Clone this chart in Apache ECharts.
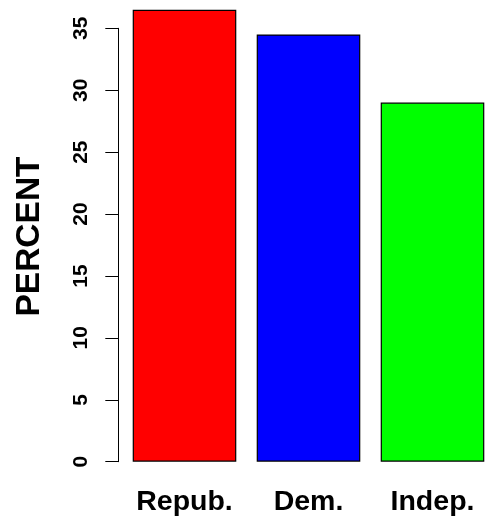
<!DOCTYPE html>
<html>
<head>
<meta charset="utf-8">
<script src="https://cdn.jsdelivr.net/npm/echarts@6/dist/echarts.min.js"></script>
<style>
html,body{margin:0;padding:0;background:#fff;}
#chart{width:485px;height:522px;}
</style>
</head>
<body>
<div id="chart"></div>
<script>
var categories = ['Repub.', 'Dem.', 'Indep.'];
var percents = [36.5, 34.5, 29.0];
var barColors = ['#FF0000', '#0000FF', '#00FF00'];
var yTicks = [0, 5, 10, 15, 20, 25, 30, 35];
var yLabel = 'PERCENT';

var FONT = '"Liberation Sans", Arial, sans-serif';
var chart = echarts.init(document.getElementById('chart'), null, {renderer: 'canvas'});
chart.setOption({
  animation: false,
  backgroundColor: '#ffffff',
  grid: {left: 184.5, top: 28.3, width: 248, height: 433.4, containLabel: false},
  xAxis: {
    type: 'category',
    data: categories,
    boundaryGap: false,
    axisLine: {show: false},
    axisTick: {show: false},
    splitLine: {show: false},
    axisLabel: {
      interval: 0,
      hideOverlap: false,
      margin: 26,
      fontSize: 28.5,
      fontWeight: 'bold',
      fontFamily: FONT,
      color: '#000',
      verticalAlign: 'top'
    }
  },
  yAxis: {
    type: 'value',
    min: yTicks[0],
    max: yTicks[yTicks.length - 1],
    interval: 5,
    offset: 66.2,
    name: yLabel,
    nameLocation: 'middle',
    nameRotate: 90,
    nameGap: 72,
    nameTextStyle: {
      fontSize: 33.5,
      fontWeight: 'bold',
      fontFamily: FONT,
      color: '#000',
      padding: [0, 0, 0, 17]
    },
    splitLine: {show: false},
    axisLine: {show: true, lineStyle: {color: '#000', width: 1}},
    axisTick: {show: true, length: 13, lineStyle: {color: '#000', width: 1}},
    axisLabel: {
      rotate: 90,
      margin: 37,
      fontSize: 21,
      fontWeight: 'bold',
      fontFamily: FONT,
      color: '#000',
      align: 'center',
      verticalAlign: 'middle'
    }
  },
  series: [{
    type: 'bar',
    clip: false,
    barWidth: 103.6,
    data: percents.map(function (v, i) {
      return {value: v, itemStyle: {color: barColors[i]}};
    }),
    itemStyle: {borderColor: '#000', borderWidth: 1.2}
  }]
});
</script>
</body>
</html>
